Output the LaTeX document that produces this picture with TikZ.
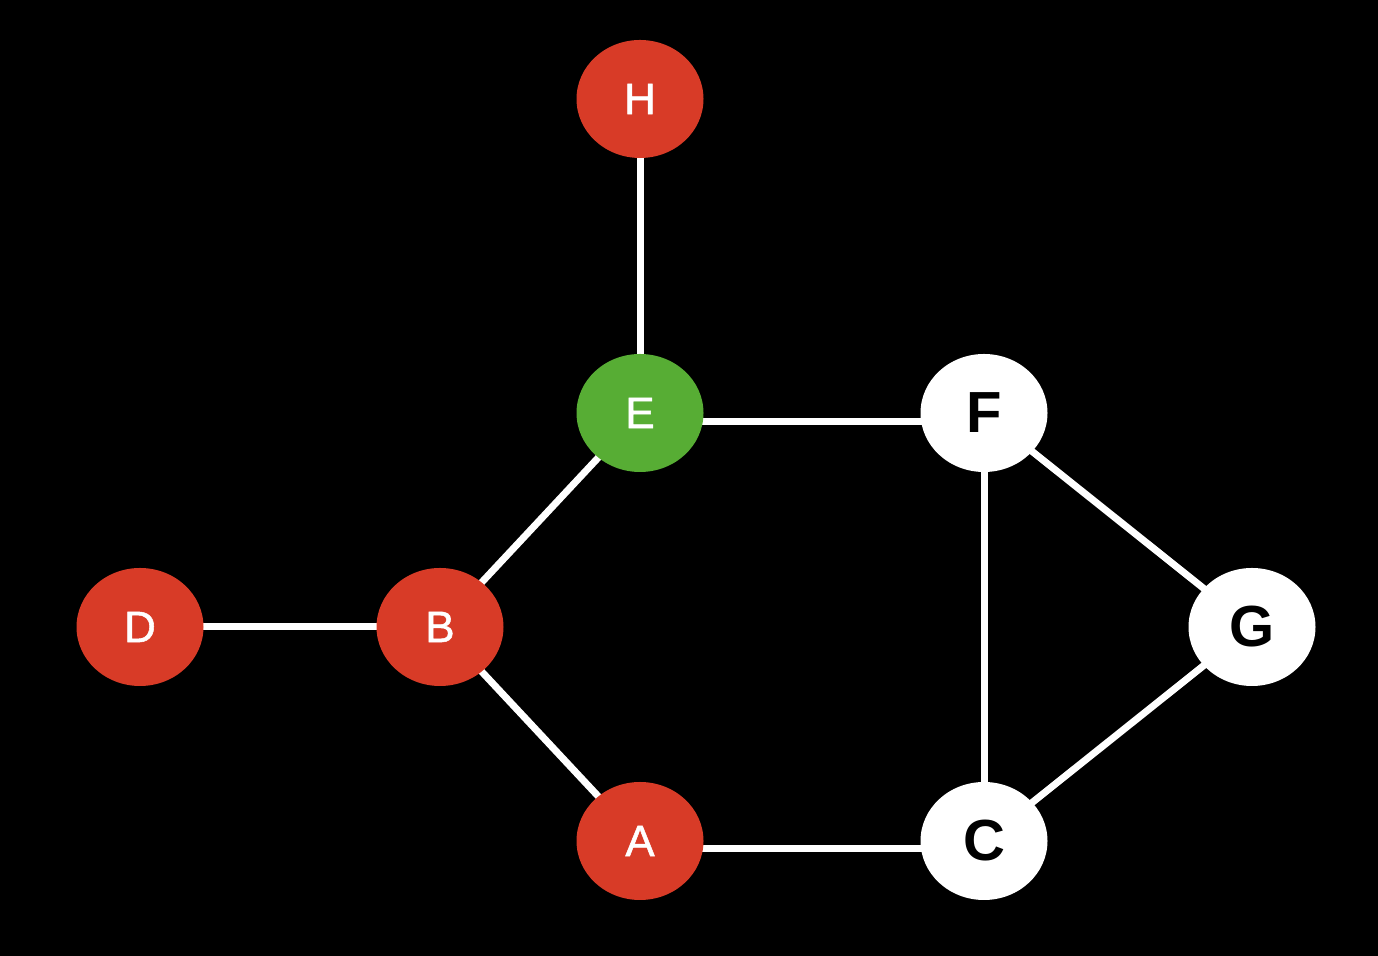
\documentclass[tikz,border=0pt]{standalone}
\usepackage{fontspec}
\setmainfont{Liberation Sans}
\newfontfamily\medfont[FakeBold=1.2]{Liberation Sans}
\usepackage{tikz}
\usetikzlibrary{shapes.geometric}

\definecolor{nodered}{HTML}{D83B27}
\definecolor{nodegreen}{HTML}{57AD34}

\pgfdeclarelayer{bg}
\pgfdeclarelayer{edges}
\pgfsetlayers{bg,edges,main}

\begin{document}
\begin{tikzpicture}[
    vtx/.style={ellipse,minimum width=2.54cm,minimum height=2.36cm,inner sep=0pt,
        font=\medfont\fontsize{25}{30}\selectfont},
    redvtx/.style={vtx,fill=nodered,text=white},
    greenvtx/.style={vtx,fill=nodegreen,text=white},
    whitevtx/.style={vtx,fill=white,text=black,font=\fontsize{33}{38}\selectfont\bfseries},
    edge/.style={white,line width=0.14cm}
]

% Background
\begin{pgfonlayer}{bg}
\fill[black] (0,0) rectangle (27.56,19.12);
\end{pgfonlayer}
\useasboundingbox (0,0) rectangle (27.56,19.12);

%-------------------------------------------------------------------
% Vertices
\foreach \n/\x/\y in {H/12.8/17.14,D/2.8/6.58,B/8.8/6.58,A/12.8/2.3}{
    \node[redvtx] (\n) at (\x,\y) {\n};
}
\node[greenvtx] (E) at (12.8,10.86) {E};
\foreach \n/\x/\y in {F/19.68/10.86,G/25.04/6.58,C/19.68/2.3}{
    \node[whitevtx] (\n) at (\x,\y) {\n};
}

%-------------------------------------------------------------------
% Edges (behind the vertices)
\begin{pgfonlayer}{edges}
\foreach \u/\v in {H/E,E/B,D/B,B/A,F/C,F/G,G/C}{
    \draw[edge] (\u.center) -- (\v.center);
}
% horizontal ones sit a little below the centres
\draw[edge] ([yshift=-0.17cm]E.center) -- ([yshift=-0.17cm]F.center);
\draw[edge] ([yshift=-0.15cm]A.center) -- ([yshift=-0.15cm]C.center);
\end{pgfonlayer}

\end{tikzpicture}
\end{document}
